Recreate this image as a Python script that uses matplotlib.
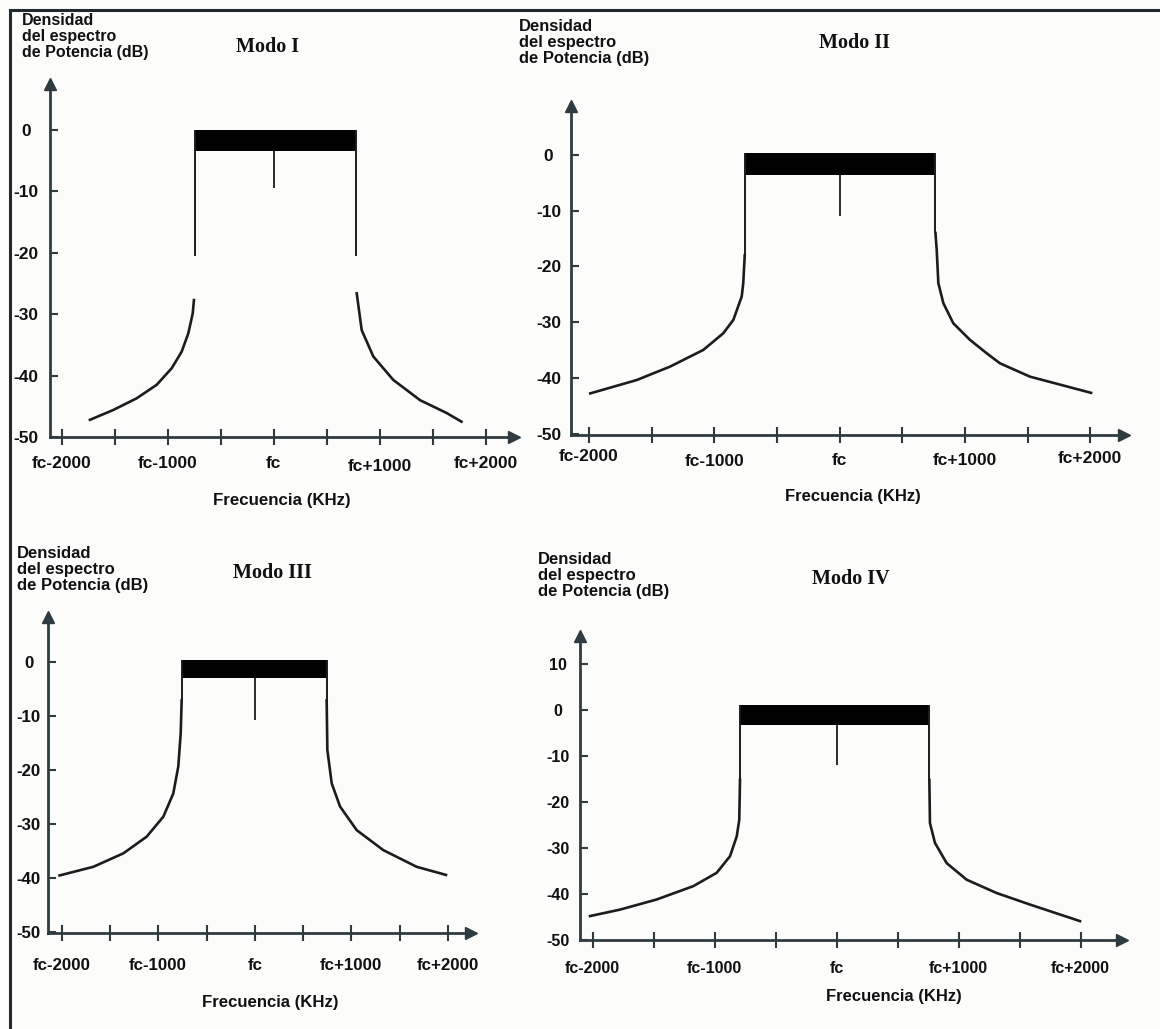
import numpy as np
import matplotlib.pyplot as plt
from matplotlib.lines import Line2D
from matplotlib.transforms import ScaledTranslation

plt.rcParams['font.family'] = ['Liberation Sans', 'DejaVu Sans']

W, H = 1160, 1029  # figure size in pixels

# ---- data (kHz relative to fc, dB) ----
modes = ['Modo I', 'Modo II', 'Modo III', 'Modo IV']

band_lo = [-742, -752, -757, -791]
band_hi = [780, 765, 744, 761]
band_top = [0.0, 0.3, 0.4, 1.1]
band_floor = [-3.4, -3.6, -2.9, -3.3]
spike_db = [-9.4, -11.0, -10.8, -12.0]
edge_end_lo = [-20.5, -18.0, -7.1, -15.2]
edge_end_hi = [-20.5, -14.0, -7.1, -15.2]

# left / right skirts of each spectrum
left_f_1 = [-1736, -1516, -1295, -1106, -964, -870, -807, -766, -754]
left_db_1 = [-47.2, -45.6, -43.7, -41.5, -38.8, -36.1, -33.1, -29.9, -27.7]
right_f_1 = [783, 830, 940, 1128, 1381, 1633, 1772]
right_db_1 = [-26.6, -32.6, -36.9, -40.7, -44.0, -46.1, -47.5]

left_f_2 = [-1990, -1619, -1354, -1088, -928, -848, -781, -769, -757]
left_db_2 = [-42.8, -40.4, -38.0, -35.0, -32.0, -29.6, -25.4, -23.0, -18.0]
right_f_2 = [765, 775, 788, 828, 907, 1041, 1174, 1280, 1520, 2007]
right_db_2 = [-14.0, -17.0, -23.0, -26.6, -30.2, -33.2, -35.6, -37.4, -39.8, -42.7]

left_f_3 = [-2021, -1672, -1361, -1119, -947, -844, -792, -767, -757]
left_db_3 = [-39.6, -38.0, -35.5, -32.4, -28.7, -24.4, -19.4, -13.2, -7.1]
right_f_3 = [744, 751, 796, 882, 1055, 1330, 1676, 1979]
right_db_3 = [-7.1, -16.3, -22.5, -26.8, -31.2, -34.9, -38.0, -39.5]

left_f_4 = [-2020, -1775, -1474, -1174, -982, -873, -818, -797, -791]
left_db_4 = [-44.8, -43.4, -41.2, -38.3, -35.4, -31.8, -27.5, -23.9, -15.2]
right_f_4 = [761, 766, 807, 903, 1067, 1313, 1586, 1996]
right_db_4 = [-15.2, -24.6, -28.9, -33.3, -36.9, -39.8, -42.3, -45.9]

left_f = [left_f_1, left_f_2, left_f_3, left_f_4]
left_db = [left_db_1, left_db_2, left_db_3, left_db_4]
right_f = [right_f_1, right_f_2, right_f_3, right_f_4]
right_db = [right_db_1, right_db_2, right_db_3, right_db_4]

x_major = [-2000, -1000, 0, 1000, 2000]
x_minor = [-1500, -500, 500, 1500]
x_labels = ['fc-2000', 'fc-1000', 'fc', 'fc+1000', 'fc+2000']
y_ticks_a = [0, -10, -20, -30, -40, -50]
y_ticks_b = [10, 0, -10, -20, -30, -40, -50]
y_ticks = [y_ticks_a, y_ticks_a, y_ticks_a, y_ticks_b]

ylabel = 'Densidad\ndel espectro\nde Potencia (dB)'
xlabel = 'Frecuencia (KHz)'

# ---- layout (pixels) ----
# left, right, top, bottom of axes box, fc pixel, px per kHz, 0 dB pixel, px per dB
boxes = [
    (50, 514, 84, 437, 273.8, 0.1059, 130, 6.14),
    (571, 1124, 106, 435, 839.6, 0.1253, 155, 5.57),
    (48, 471, 617, 933, 254.8, 0.0966, 662, 5.39),
    (580, 1122, 636, 940, 836.5, 0.1220, 710, 4.61),
]
title_pos = [(268, 47), (855, 43), (272, 573), (851, 579)]
ylab_pos = [(22, 13), (519, 19), (17, 546), (538, 552)]
xlab_pos = [(282, 500), (853, 497), (270, 1003), (894, 997)]
tick_size = [12.5, 12.5, 12.2, 11.5]
lab_size = [11.5, 11.9, 12, 12]
frec_size = [12.2, 12, 12.1, 12]
xpad = [8.2, 7.5, 12.5, 9.6]
ypad = [17.3, 16.1, 13.7, 15.8]
# vertical shift (px, down positive) of the x tick labels in the second panel
stagger = [[0, 0, 0, 3, 0], [-4, 1, 0, 0, -2], [0, 0, 0, 0, 0], [0, 0, 0, 0, 0]]

axis_col = '#2e3b40'
line_col = '#1c1c1c'
text_col = '#111111'

fig = plt.figure(figsize=(W / 100, H / 100), dpi=100)
fig.patch.set_facecolor('#fcfcfb')

for i in range(4):
    l, r, t, b, fc_px, kpx, z_px, dbpx = boxes[i]
    ax = fig.add_axes([l / W, 1 - b / H, (r - l) / W, (b - t) / H])
    ax.set_facecolor('none')
    ax.set_xlim((l - fc_px) / kpx, (r - fc_px) / kpx)
    ax.set_ylim((z_px - b) / dbpx, (z_px - t) / dbpx)

    # band of carriers
    ax.fill_between([band_lo[i], band_hi[i]], band_floor[i], band_top[i],
                    color='black', lw=0)
    ax.vlines([band_lo[i]], edge_end_lo[i], band_top[i], color=line_col, lw=1.4)
    ax.vlines([band_hi[i]], edge_end_hi[i], band_top[i], color=line_col, lw=1.4)
    ax.vlines([0], spike_db[i], band_floor[i], color=line_col, lw=1.3)

    # skirts
    ax.plot(left_f[i], left_db[i], color=line_col, lw=1.9,
            solid_joinstyle='round')
    ax.plot(right_f[i], right_db[i], color=line_col, lw=1.9,
            solid_joinstyle='round')

    # axes styling
    for s in ['top', 'right']:
        ax.spines[s].set_visible(False)
    for s in ['left', 'bottom']:
        ax.spines[s].set_color(axis_col)
        ax.spines[s].set_linewidth(2.0)
    ax.plot(1, 0, marker='>', ms=9, color=axis_col, transform=ax.transAxes,
            clip_on=False)
    ax.plot(0, 1, marker='^', ms=9, color=axis_col, transform=ax.transAxes,
            clip_on=False)

    ax.set_xticks(x_major)
    ax.set_xticklabels(x_labels, fontsize=tick_size[i], fontweight='bold',
                       color=text_col)
    ax.set_xticks(x_minor, minor=True)
    ax.tick_params(axis='x', which='both', direction='inout', length=11,
                   width=1.5, color=axis_col, pad=xpad[i])
    ax.set_yticks(y_ticks[i])
    ax.set_yticklabels([str(v) for v in y_ticks[i]], fontsize=tick_size[i],
                       fontweight='bold', color=text_col)
    ax.tick_params(axis='y', direction='in', length=6, width=1.5,
                   color=axis_col, pad=ypad[i])
    for lbl in ax.get_yticklabels():
        lbl.set_horizontalalignment('center')
    for lbl, dy in zip(ax.get_xticklabels(), stagger[i]):
        lbl.set_transform(lbl.get_transform() +
                          ScaledTranslation(0, -dy / 100, fig.dpi_scale_trans))

    fig.text(title_pos[i][0] / W, 1 - title_pos[i][1] / H, modes[i],
             family=['Liberation Serif', 'DejaVu Serif'], fontweight='bold',
             fontsize=14.5, ha='center', va='center', color=text_col)
    fig.text(ylab_pos[i][0] / W, 1 - ylab_pos[i][1] / H, ylabel,
             fontsize=lab_size[i], fontweight='bold', ha='left', va='top',
             linespacing=1.08, color=text_col)
    fig.text(xlab_pos[i][0] / W, 1 - xlab_pos[i][1] / H, xlabel,
             fontsize=frec_size[i], fontweight='bold', ha='center', va='center',
             color=text_col)

# frame on the left and top of the picture
fig.add_artist(Line2D([10 / W, 10 / W], [0, 1 - 10 / H], color='#1f2a2e', lw=2.2))
fig.add_artist(Line2D([10 / W, 1], [1 - 10 / H, 1 - 10 / H], color='#1f2a2e', lw=2.2))

fig.savefig('out.png', dpi=100, facecolor=fig.get_facecolor())
